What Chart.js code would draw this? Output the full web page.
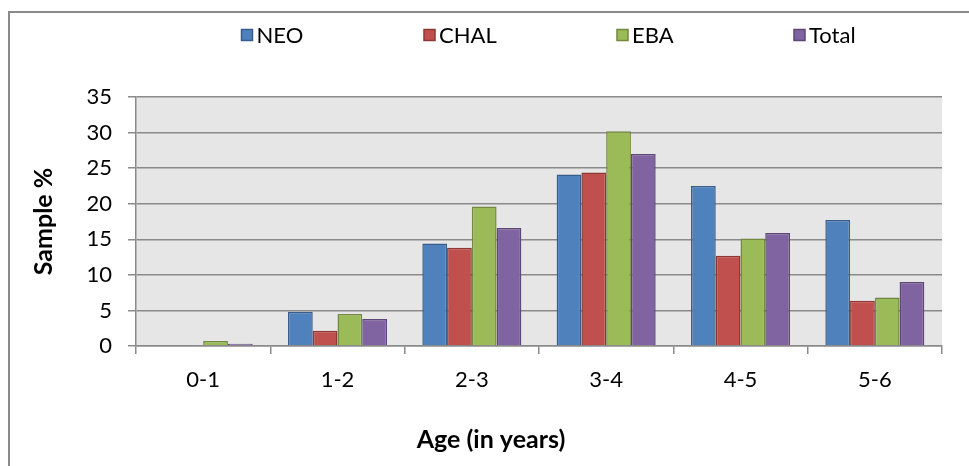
<!DOCTYPE html>
<html>
<head>
<meta charset="utf-8">
<script src="https://cdn.jsdelivr.net/npm/chart.js@4/dist/chart.umd.min.js"></script>
<style>
html,body{margin:0;padding:0;background:#fff;}
#wrap{width:969px;height:466px;position:relative;}
</style>
</head>
<body>
<div id="wrap"><canvas id="c" width="969" height="466"></canvas></div>
<script>
const categories = ["0-1", "1-2", "2-3", "3-4", "4-5", "5-6"];
const seriesNames = ["NEO", "CHAL", "EBA", "Total"];
const neo   = [0,   4.8, 14.4, 24.1, 22.5, 17.7];
const chal  = [0,   2.15, 13.8, 24.4, 12.7, 6.35];
const eba   = [0.7, 4.5, 19.6, 30.2, 15.1, 6.8];
const total = [0.3, 3.8, 16.6, 27.0, 15.9, 9.0];
const yTicks = [0, 5, 10, 15, 20, 25, 30, 35];
const xTitle = "Age (in years)";
const yTitle = "Sample %";

const fills   = ["#4F81BD", "#C0504D", "#9BBB59", "#8064A2"];
const borders = ["#385D8A", "#8C3836", "#71893F", "#5C4776"];
const FONT = "Lato, 'Open Sans', 'DejaVu Sans', sans-serif";
const legendBoxX = [241.5, 424, 617, 794];

const bgPlugin = {
  id: 'bg',
  beforeDraw(chart) {
    const {ctx, chartArea: a} = chart;
    ctx.save();
    ctx.fillStyle = '#ffffff';
    ctx.fillRect(0, 0, chart.width, chart.height);
    ctx.strokeStyle = '#8a8a8a';
    ctx.lineWidth = 2;
    ctx.beginPath();
    ctx.moveTo(9, chart.height);
    ctx.lineTo(9, 12);
    ctx.lineTo(chart.width, 12);
    ctx.stroke();
    ctx.fillStyle = '#e6e6e6';
    ctx.fillRect(a.left, a.top, a.right - a.left, a.bottom - a.top);
    ctx.restore();
  }
};

const legendPlugin = {
  id: 'customLegend',
  afterDraw(chart) {
    const {ctx} = chart;
    ctx.save();
    ctx.font = "22px " + FONT;
    ctx.textBaseline = 'middle';
    ctx.textAlign = 'left';
    const box = 11, cy = 35;
    chart.data.datasets.forEach((ds, i) => {
      const x = legendBoxX[i];
      ctx.fillStyle = ds.backgroundColor;
      ctx.fillRect(x, cy - box / 2, box, box);
      ctx.strokeStyle = ds.borderColor;
      ctx.lineWidth = 1.5;
      ctx.strokeRect(x, cy - box / 2, box, box);
      ctx.fillStyle = '#000';
      ctx.fillText(ds.label, x + box + 4, cy + 1);
    });
    // x axis title (placed left of centre, as in the original)
    ctx.font = "bold 25px " + FONT;
    ctx.textAlign = 'center';
    ctx.fillText(xTitle, 491, 440);
    ctx.restore();
  }
};

const seriesData = [neo, chal, eba, total];
new Chart(document.getElementById('c'), {
  type: 'bar',
  data: {
    labels: categories,
    datasets: seriesNames.map((n, i) => ({
      label: n,
      data: seriesData[i],
      backgroundColor: fills[i],
      borderColor: borders[i],
      borderWidth: 1.5,
      categoryPercentage: 0.737,
      barPercentage: 1.0
    }))
  },
  options: {
    responsive: false,
    animation: false,
    devicePixelRatio: 1,
    layout: { padding: { left: 9, top: 97, right: 27, bottom: 0 } },
    plugins: { legend: { display: false }, tooltip: { enabled: false } },
    scales: {
      x: {
        offset: true,
        grid: { display: true, drawOnChartArea: false, drawTicks: true, tickLength: 8, color: '#8a8a8a', lineWidth: 1.5, offset: true },
        border: { display: true, color: '#8a8a8a', width: 1.5 },
        ticks: { color: '#000', font: { family: FONT, size: 22 }, padding: 13, maxRotation: 0 },
        title: { display: false },
        afterFit(s) { s.height = 120; }
      },
      y: {
        min: 0, max: 35,
        afterBuildTicks(s) { s.ticks = yTicks.map(v => ({ value: v })); },
        grid: { color: '#8a8a8a', lineWidth: 1.5, tickLength: 8, drawTicks: true },
        border: { display: true, color: '#8a8a8a', width: 1.5 },
        ticks: { color: '#000', font: { family: FONT, size: 22 }, padding: 16 },
        title: { display: true, text: yTitle, color: '#000', font: { family: FONT, size: 25, weight: 'bold', lineHeight: 1 }, padding: { top: 22, bottom: 0 } },
        afterFit(s) { s.width = 127; }
      }
    }
  },
  plugins: [bgPlugin, legendPlugin]
});
</script>
</body>
</html>
